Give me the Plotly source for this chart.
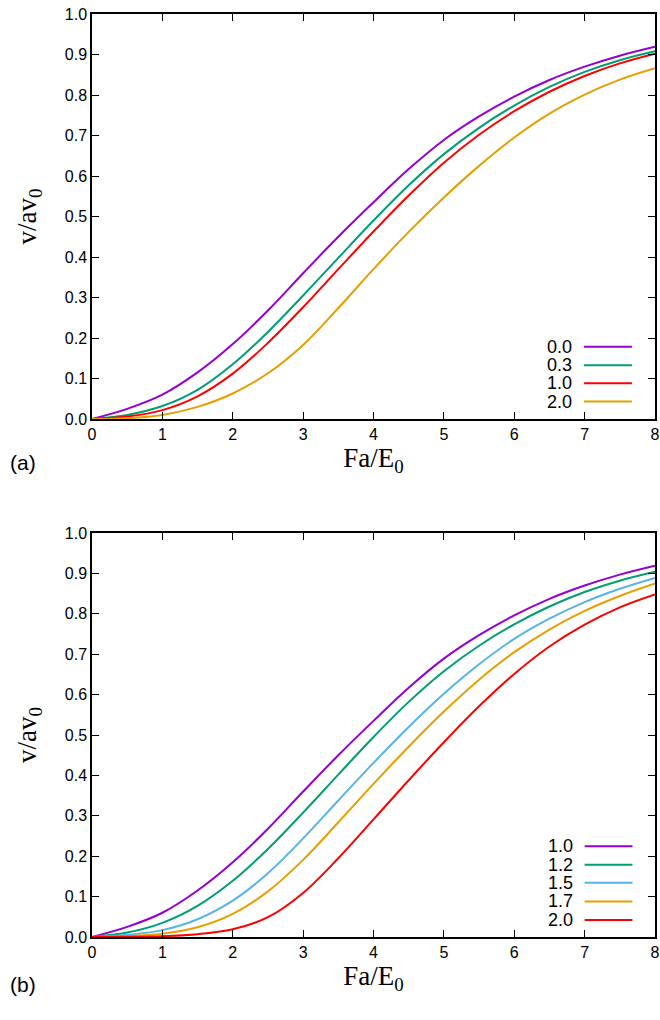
import plotly.graph_objects as go
from plotly.subplots import make_subplots

# ---------------- data ----------------
x_vals = [0, 0.5, 1, 1.5, 2, 2.5, 3, 3.5, 4, 4.5, 5, 5.5, 6, 6.5, 7, 7.5, 8]

# panel (a)
a_labels = ["0.0", "0.3", "1.0", "2.0"]
a_00 = [0, 0.025, 0.060, 0.115, 0.185, 0.268, 0.360, 0.450, 0.535, 0.617, 0.689, 0.747, 0.796, 0.837, 0.870, 0.897, 0.919]
a_03 = [0, 0.010, 0.032, 0.072, 0.135, 0.215, 0.305, 0.398, 0.490, 0.577, 0.654, 0.719, 0.774, 0.820, 0.857, 0.886, 0.908]
a_10 = [0, 0.006, 0.022, 0.056, 0.112, 0.188, 0.276, 0.370, 0.463, 0.552, 0.633, 0.702, 0.760, 0.808, 0.847, 0.878, 0.902]
a_20 = [0, 0.002, 0.010, 0.030, 0.063, 0.113, 0.183, 0.274, 0.370, 0.462, 0.547, 0.625, 0.695, 0.754, 0.801, 0.838, 0.866]

# panel (b)
b_labels = ["1.0", "1.2", "1.5", "1.7", "2.0"]
b_10 = [0, 0.025, 0.060, 0.115, 0.185, 0.268, 0.360, 0.450, 0.535, 0.617, 0.689, 0.747, 0.796, 0.837, 0.870, 0.897, 0.919]
b_12 = [0, 0.011, 0.035, 0.077, 0.139, 0.218, 0.308, 0.402, 0.495, 0.582, 0.658, 0.721, 0.774, 0.818, 0.854, 0.882, 0.904]
b_15 = [0, 0.005, 0.017, 0.044, 0.090, 0.158, 0.244, 0.338, 0.431, 0.520, 0.602, 0.675, 0.738, 0.788, 0.829, 0.862, 0.889]
b_17 = [0, 0.002, 0.008, 0.024, 0.057, 0.113, 0.191, 0.284, 0.379, 0.471, 0.558, 0.637, 0.705, 0.761, 0.807, 0.844, 0.875]
b_20 = [0, 0.0005, 0.002, 0.007, 0.019, 0.049, 0.109, 0.195, 0.291, 0.388, 0.482, 0.571, 0.651, 0.719, 0.773, 0.816, 0.848]

x_ticks = [0, 1, 2, 3, 4, 5, 6, 7, 8]
y_ticks = [0, 0.1, 0.2, 0.3, 0.4, 0.5, 0.6, 0.7, 0.8, 0.9, 1.0]
y_ticktext = ["0.0", "0.1", "0.2", "0.3", "0.4", "0.5", "0.6", "0.7", "0.8", "0.9", "1.0"]

# ---------------- styles ----------------
PURPLE = "#9400d3"
GREEN = "#009e73"
BLUE = "#56b4e9"
ORANGE = "#e69f00"
RED = "#ff0000"

a_series = [a_00, a_03, a_10, a_20]
a_colors = [PURPLE, GREEN, RED, ORANGE]
b_series = [b_10, b_12, b_15, b_17, b_20]
b_colors = [PURPLE, GREEN, BLUE, ORANGE, RED]

fig = make_subplots(rows=2, cols=1)

for ys, col, lab in zip(a_series, a_colors, a_labels):
    fig.add_trace(go.Scatter(x=x_vals, y=ys, mode="lines", name=lab,
                             line=dict(color=col, width=2, shape="spline", smoothing=1.0),
                             showlegend=False), row=1, col=1)
for ys, col, lab in zip(b_series, b_colors, b_labels):
    fig.add_trace(go.Scatter(x=x_vals, y=ys, mode="lines", name=lab,
                             line=dict(color=col, width=2, shape="spline", smoothing=1.0),
                             showlegend=False), row=2, col=1)

TICKFONT = dict(family="Liberation Sans, Arial, sans-serif", size=16, color="black")
TITLEFONT = dict(family="Liberation Serif, Times New Roman, serif", size=27, color="black")

axis_common = dict(showline=True, linecolor="black", linewidth=1.5, mirror="ticks",
                   ticks="inside", ticklen=7, tickwidth=1, tickcolor="black",
                   showgrid=False, zeroline=False, tickfont=TICKFONT,
                   automargin=False, ticklabeloverflow="allow")

# figure fills the 660x1020 window (body margin removed below);
# plot areas at x 92-655, y 14-419 and 533-937
FIG_W, FIG_H = 660, 1020
M_L, M_R, M_T, M_B = 92, 5, 14, 83
H_PLOT = FIG_H - M_T - M_B
W_PLOT = FIG_W - M_L - M_R

def ypix(py):  # window pixel -> paper fraction
    return (FIG_H - M_B - py) / H_PLOT

def xpix(px):
    return (px - M_L) / W_PLOT

dom_a = [ypix(419), 1.0]
dom_b = [0.0, ypix(533)]

for r, dom in ((1, dom_a), (2, dom_b)):
    fig.update_xaxes(range=[0, 8], tickvals=x_ticks, row=r, col=1,
                     title=dict(text="Fa/E<sub>0</sub>", font=TITLEFONT, standoff=4),
                     **axis_common)
    fig.update_yaxes(range=[0, 1], tickvals=y_ticks, ticktext=y_ticktext, row=r, col=1,
                     domain=dom,
                     title=dict(text="v/av<sub>0</sub>", font=TITLEFONT, standoff=20),
                     **axis_common)

# ---------------- gnuplot-style keys (label on left, sample line on right) ----------------
LEGFONT = dict(family="Liberation Sans, Arial, sans-serif", size=18, color="black")

def add_key(labels, colors, xref, yref, y_rows, x_text, x0, x1):
    for lab, col, yy in zip(labels, colors, y_rows):
        fig.add_annotation(text=lab, xref=xref, yref=yref, x=x_text, y=yy,
                           xanchor="right", yanchor="middle", showarrow=False, font=LEGFONT)
        fig.add_shape(type="line", xref=xref, yref=yref, x0=x0, x1=x1, y0=yy, y1=yy,
                      line=dict(color=col, width=2))

add_key(a_labels, a_colors, "x domain", "y domain",
        [0.1785, 0.133, 0.088, 0.043], 0.856, 0.874, 0.959)
add_key(b_labels, b_colors, "x2 domain", "y2 domain",
        [0.2245, 0.179, 0.134, 0.088, 0.042], 0.858, 0.875, 0.960)

# panel labels
PANELFONT = dict(family="Liberation Sans, Arial, sans-serif", size=21, color="black")
fig.add_annotation(text="(a)", xref="paper", yref="paper", x=xpix(8), y=ypix(463),
                   xanchor="left", yanchor="middle", showarrow=False, font=PANELFONT)
fig.add_annotation(text="(b)", xref="paper", yref="paper", x=xpix(8), y=ypix(985),
                   xanchor="left", yanchor="middle", showarrow=False, font=PANELFONT)

fig.update_layout(width=FIG_W, height=FIG_H,
                  margin=dict(l=M_L, r=M_R, t=M_T, b=M_B, autoexpand=False),
                  plot_bgcolor="white", paper_bgcolor="white",
                  showlegend=False)

fig.write_html("out.html",
               config={"displayModeBar": False},
               post_script="document.body.style.margin='0';document.body.style.overflow='hidden';")
